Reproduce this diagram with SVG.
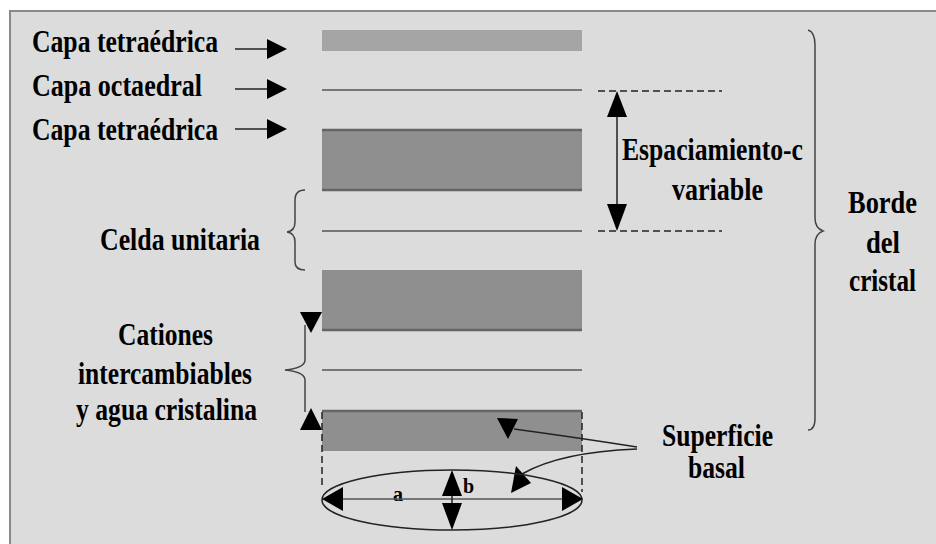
<svg xmlns="http://www.w3.org/2000/svg" width="936" height="544" viewBox="0 0 936 544">
  <style>
    text { font-family: "Liberation Serif", "Times New Roman", Times, serif; font-weight: 700; fill: #000; }
    .lbl { font-size: 31px; }
    .small { font-size: 20px; }
    .thin { fill: none; stroke: #555; stroke-width: 1.5; }
    .ln { fill: none; stroke: #222; stroke-width: 1.5; }
    .dash { fill: none; stroke: #222; stroke-width: 1.5; stroke-dasharray: 7 4; }
    .brace { fill: none; stroke: #444; stroke-width: 1.5; }
    .head { fill: #000; }
    .dark { fill: #8f8f8f; }
    .edge { stroke: #656565; stroke-width: 2.5; }
  </style>

  <!-- page and frame -->
  <rect x="0" y="0" width="936" height="544" fill="#fff"/>
  <rect x="10" y="11" width="940" height="545" fill="#dcdcdc" stroke="#8a8a8a" stroke-width="2"/>

  <!-- clay layers -->
  <g id="layers">
    <rect x="322" y="30" width="260" height="21" fill="#a5a5a5"/>
    <line class="thin" x1="322" y1="90" x2="582" y2="90"/>
    <rect class="dark" x="322" y="129" width="260" height="62"/>
    <line class="edge" x1="322" y1="130" x2="582" y2="130"/>
    <line class="edge" x1="322" y1="190" x2="582" y2="190"/>
    <line class="thin" x1="322" y1="231" x2="582" y2="231"/>
    <rect class="dark" x="322" y="270" width="260" height="61"/>
    <line class="edge" x1="322" y1="330" x2="582" y2="330"/>
    <line class="thin" x1="322" y1="370" x2="582" y2="370"/>
    <rect class="dark" x="322" y="410" width="260" height="41"/>
    <line class="edge" x1="322" y1="411" x2="582" y2="411"/>
  </g>

  <!-- left labels -->
  <g id="capa-tetra-1">
    <text class="lbl" x="32" y="52" textLength="186" lengthAdjust="spacingAndGlyphs">Capa tetraédrica</text>
  </g>
  <g id="capa-octa">
    <text class="lbl" x="32" y="96" textLength="170" lengthAdjust="spacingAndGlyphs">Capa octaedral</text>
  </g>
  <g id="capa-tetra-2">
    <text class="lbl" x="32" y="140" textLength="186" lengthAdjust="spacingAndGlyphs">Capa tetraédrica</text>
  </g>
  <g id="celda">
    <text class="lbl" x="100" y="250" textLength="160" lengthAdjust="spacingAndGlyphs">Celda unitaria</text>
  </g>
  <g id="cationes">
    <text class="lbl" x="118" y="345" textLength="95" lengthAdjust="spacingAndGlyphs">Cationes</text>
    <text class="lbl" x="78" y="384" textLength="174" lengthAdjust="spacingAndGlyphs">intercambiables</text>
    <text class="lbl" x="76" y="420" textLength="181" lengthAdjust="spacingAndGlyphs">y agua cristalina</text>
  </g>
  <g id="espaciamiento">
    <text class="lbl" x="622" y="160" textLength="181" lengthAdjust="spacingAndGlyphs">Espaciamiento-c</text>
    <text class="lbl" x="672" y="200" textLength="91" lengthAdjust="spacingAndGlyphs">variable</text>
  </g>
  <g id="borde">
    <text class="lbl" x="848" y="213" textLength="69" lengthAdjust="spacingAndGlyphs">Borde</text>
    <text class="lbl" x="866" y="253" textLength="34" lengthAdjust="spacingAndGlyphs">del</text>
    <text class="lbl" x="849" y="291" textLength="67" lengthAdjust="spacingAndGlyphs">cristal</text>
  </g>
  <g id="superficie">
    <text class="lbl" x="662" y="446" textLength="111" lengthAdjust="spacingAndGlyphs">Superficie</text>
    <text class="lbl" x="688" y="478" textLength="57" lengthAdjust="spacingAndGlyphs">basal</text>
  </g>
  <g id="ejes">
    <text class="small" x="393" y="501">a</text>
    <text class="small" x="463" y="493">b</text>
  </g>

  <!-- connectors -->
  <g id="connectors">
    <!-- layer pointers -->
    <line class="ln" x1="235" y1="49" x2="270" y2="49"/>
    <polygon class="head" points="267,39 287,49 267,59"/>
    <line class="ln" x1="235" y1="89" x2="270" y2="89"/>
    <polygon class="head" points="267,79 287,89 267,99"/>
    <line class="ln" x1="235" y1="129" x2="270" y2="129"/>
    <polygon class="head" points="267,119 287,129 267,139"/>

    <!-- c-spacing -->
    <line class="dash" x1="598" y1="91" x2="722" y2="91"/>
    <line class="dash" x1="598" y1="231" x2="722" y2="231"/>
    <line class="ln" x1="617" y1="100" x2="617" y2="222"/>
    <polygon class="head" points="617,91 627,117 607,117"/>
    <polygon class="head" points="607,204 627,204 617,231"/>

    <!-- braces -->
    <path class="brace" d="M305,190 Q295,190 295,200 L295,222 Q295,231 287,232 Q295,233 295,242 L295,262 Q295,270 305,270"/>
    <path class="brace" d="M808,30 Q815,32 815,45 L815,218 Q815,228 823,231 Q815,234 815,244 L815,418 Q815,430 808,430"/>
    <path class="brace" d="M305,325 L305,360 Q305,368 285,370 Q305,372 305,380 L305,412"/>
    <polygon class="head" points="300,312 322,312 311,333"/>
    <polygon class="head" points="300,430 322,430 311,408"/>

    <!-- basal surface pointers -->
    <path class="ln" d="M637,447 Q580,438 514,429"/>
    <polygon class="head" points="497,418 518,419 508,439"/>
    <path class="ln" d="M637,449 Q560,452 522,474"/>
    <polygon class="head" points="516,466 531,483 511,493"/>

    <!-- basal plane ellipse -->
    <line class="dash" x1="322" y1="412" x2="322" y2="488"/>
    <line class="dash" x1="582" y1="412" x2="582" y2="492"/>
    <ellipse class="ln" cx="452" cy="500" rx="130" ry="30" stroke="#333"/>
    <line x1="335" y1="499" x2="570" y2="499" stroke="#555" stroke-width="1.5"/>
    <polygon class="head" points="322,499 343,487 343,511"/>
    <polygon class="head" points="583,499 562,487 562,511"/>
    <line class="ln" x1="452" y1="480" x2="452" y2="520"/>
    <polygon class="head" points="452,470 462,496 442,496"/>
    <polygon class="head" points="442,503 462,503 452,530"/>
  </g>
</svg>
